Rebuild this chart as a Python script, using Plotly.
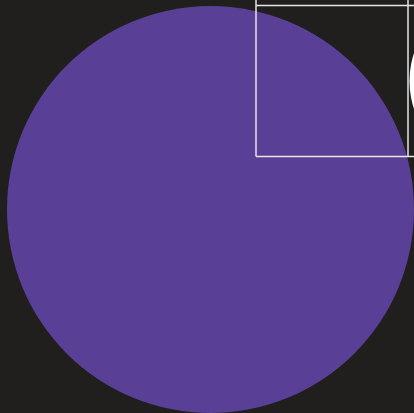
import plotly.graph_objects as go

# Data
categories = ["Total"]
values = [100]
slice_colors = ["#5a3f97"]

W, H = 414, 413
BG = "#211f1e"
LINE = "#e6e6e6"

def px(x):
    return x / W

def py(y):
    return 1 - y / H

fig = go.Figure()
fig.add_trace(go.Pie(
    labels=categories,
    values=values,
    marker=dict(colors=slice_colors, line=dict(width=0)),
    textinfo="none",
    hoverinfo="label+value",
    sort=False,
    showlegend=False,
    domain=dict(x=[px(7), px(414)], y=[py(413), py(6)]),
))

shapes = [
    dict(type="line", x0=px(256), x1=px(256), y0=py(0), y1=py(156.5)),
    dict(type="line", x0=px(408), x1=px(408), y0=py(0), y1=py(156.5)),
    dict(type="line", x0=px(256), x1=px(416), y0=py(5.5), y1=py(5.5)),
    dict(type="line", x0=px(256), x1=px(416), y0=py(156.5), y1=py(156.5)),
]
for s in shapes:
    s.update(xref="paper", yref="paper", line=dict(color=LINE, width=1.5))
shapes.append(dict(type="circle", xref="paper", yref="paper",
                   x0=px(409.5), x1=px(589.5), y0=py(-9), y1=py(171),
                   fillcolor="#ffffff", line=dict(width=0)))

fig.update_layout(
    width=W, height=H,
    margin=dict(l=0, r=0, t=0, b=0),
    paper_bgcolor=BG,
    plot_bgcolor=BG,
    shapes=shapes,
)

post = (
    "document.body.style.margin='0';"
    "document.body.style.background='%s';"
    "document.documentElement.style.background='%s';"
    "document.body.style.overflow='hidden';" % (BG, BG)
)
fig.write_html("out.html", post_script=post, config={"displayModeBar": False})
